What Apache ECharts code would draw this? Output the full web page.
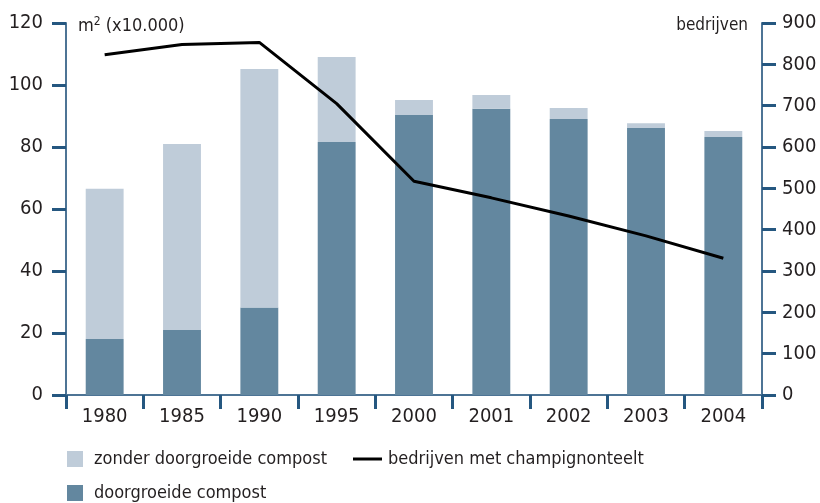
<!DOCTYPE html>
<html><head><meta charset="utf-8">
<script src="https://cdn.jsdelivr.net/npm/echarts@6/dist/echarts.min.js"></script>
<style>html,body{margin:0;padding:0;background:#fff}#c{width:820px;height:503px}</style>
</head><body><div id="c"></div>
<script>
var categories = ['1980','1985','1990','1995','2000','2001','2002','2003','2004'];
var doorgroeid = [18.1, 21.0, 28.2, 81.6, 90.3, 92.3, 89.0, 86.1, 83.2];
var zonder = [48.4, 60.0, 77.0, 27.4, 4.9, 4.5, 3.6, 1.6, 2.0];
var bedrijven = [823, 848, 853, 705, 517, 477, 433, 385, 331];
var leftTicks = [0, 120, 20];
var rightTicks = [0, 900, 100];

var FONT = '"DejaVu Sans Condensed", "DejaVu Sans", sans-serif';
var TXT = '#231f20';
var AX = '#4d7495';
var TK = '#255780';
var DARK = '#63879f';
var LIGHT = '#bfccd9';

var chart = echarts.init(document.getElementById('c'));
chart.setOption({
  animation: false,
  textStyle: { fontFamily: FONT, color: TXT },
  grid: { left: 66, right: 58, top: 23, bottom: 108, containLabel: false },
  legend: [
    { left: 62, top: 445, icon: 'rect', itemWidth: 16, itemHeight: 16, data: ['zonder doorgroeide compost'],
      textStyle: { fontFamily: FONT, fontSize: 18, color: TXT, padding: [0,0,0,6] } },
    { left: 348, top: 445, icon: 'rect', itemWidth: 29, itemHeight: 3, data: ['bedrijven met champignonteelt'],
      textStyle: { fontFamily: FONT, fontSize: 18, color: TXT, padding: [0,0,0,1] } },
    { left: 62, top: 479, icon: 'rect', itemWidth: 16, itemHeight: 16, data: ['doorgroeide compost'],
      textStyle: { fontFamily: FONT, fontSize: 18, color: TXT, padding: [0,0,0,6] } }
  ],
  xAxis: {
    type: 'category', data: categories,
    axisLine: { lineStyle: { color: AX, width: 2 } },
    axisTick: { show: true, length: 14, lineStyle: { color: TK, width: 3 }, alignWithLabel: false },
    axisLabel: { fontFamily: FONT, fontSize: 20, color: TXT, margin: 12 }
  },
  yAxis: [
    { type: 'value', min: leftTicks[0], max: leftTicks[1], interval: leftTicks[2],
      name: '{m|m}{s|2}{m| (x10.000)}', nameLocation: 'end', nameGap: -3,
      nameTextStyle: { align: 'left', verticalAlign: 'middle', padding: [0,0,0,12],
        rich: { m: { fontFamily: FONT, fontSize: 18, color: TXT },
                s: { fontFamily: FONT, fontSize: 12, color: TXT, verticalAlign: 'top', padding: [0,0,8,0] } } },
      axisLine: { show: true, lineStyle: { color: AX, width: 2 } },
      axisTick: { show: true, length: 14, lineStyle: { color: TK, width: 3 } },
      axisLabel: { fontFamily: FONT, fontSize: 20, color: TXT, margin: 23 },
      splitLine: { show: false } },
    { type: 'value', min: rightTicks[0], max: rightTicks[1], interval: rightTicks[2], position: 'right',
      name: 'bedrijven', nameLocation: 'end', nameGap: -3,
      nameTextStyle: { fontFamily: FONT, fontSize: 17, color: TXT, align: 'right', verticalAlign: 'middle', padding: [0,14,0,0] },
      axisLine: { show: true, lineStyle: { color: AX, width: 2 } },
      axisTick: { show: true, length: 14, lineStyle: { color: TK, width: 3 } },
      axisLabel: { fontFamily: FONT, fontSize: 20, color: TXT, margin: 20 },
      splitLine: { show: false } }
  ],
  series: [
    { name: 'doorgroeide compost', type: 'bar', stack: 'a', data: doorgroeid, barWidth: '49%',
      itemStyle: { color: DARK } },
    { name: 'zonder doorgroeide compost', type: 'bar', stack: 'a', data: zonder, barWidth: '49%',
      itemStyle: { color: LIGHT } },
    { name: 'bedrijven met champignonteelt', type: 'line', yAxisIndex: 1, data: bedrijven,
      symbol: 'none', lineStyle: { color: '#000', width: 3 }, itemStyle: { color: '#000' } }
  ]
});
</script></body></html>
